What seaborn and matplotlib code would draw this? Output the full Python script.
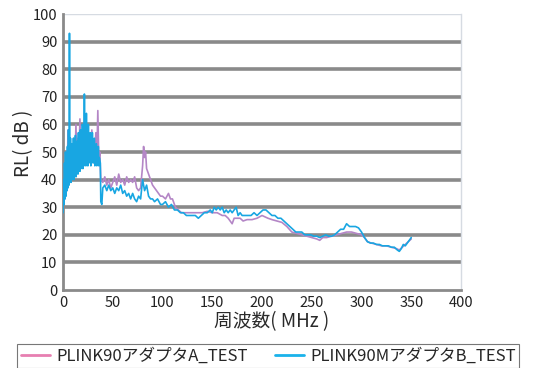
import numpy as np
import pandas as pd
import matplotlib
matplotlib.use("Agg")
import matplotlib.pyplot as plt
from matplotlib.lines import Line2D
import seaborn as sns

# ---- data ----
series_names = ["PLINK90アダプタA_TEST", "PLINK90MアダプタB_TEST"]

a_freq = [0, 1, 2, 3, 4, 5, 6, 7, 8, 9, 10, 11, 12, 13, 14, 15, 16, 17, 18, 19,
          20, 21, 22, 23, 24, 25, 26, 27, 28, 29, 30, 31, 32, 33, 34, 35, 36, 37, 38,
          40, 42, 44, 46, 48, 50, 52, 54, 56, 58, 60, 62, 64, 66, 68, 70, 72, 74, 76, 78,
          80, 81, 82, 83, 84, 86, 88, 90, 92, 94, 96, 98, 100, 103, 106, 108, 110, 113,
          116, 119, 122, 125, 130, 135, 140, 145, 150, 155, 160, 163, 166, 168, 170, 172,
          175, 178, 181, 185, 190, 195, 200, 203, 206, 210, 215, 220, 225, 230, 235, 240,
          245, 250, 255, 258, 261, 265, 270, 275, 280, 285, 290, 295, 300, 303, 306, 310,
          315, 320, 325, 330, 335, 338, 341, 344, 347, 350]
a_rl = [30, 38, 33, 45, 36, 58, 40, 50, 42, 52, 43, 55, 45, 60, 46, 55, 47, 62, 48, 58,
        47, 60, 48, 56, 47, 58, 48, 55, 47, 58, 48, 54, 47, 57, 48, 65, 47, 50, 40,
        39, 41, 38, 40, 37, 39, 41, 38, 42, 39, 40, 38, 41, 39, 40, 39, 41, 37, 36, 37,
        45, 52, 48, 50, 44, 42, 40, 38, 37, 36, 35, 34, 34, 33, 35, 33, 33, 30,
        29, 28, 28, 28, 28, 28, 28, 28.5, 28, 28, 27, 27, 26, 25, 24, 26,
        26, 26, 25, 25.5, 25.5, 26, 27, 26.5, 26, 25.5, 25, 24.5, 23, 21, 20.5, 20,
        19.5, 19, 18.5, 18, 19, 19, 19.5, 20, 20.5, 21, 21, 20.5, 20, 19, 17.5, 17,
        16.5, 16, 16, 15.5, 15, 14.5, 15.5, 16.5, 17.5, 18.5]

b_freq = [0, 0.5, 1, 1.5, 2, 2.5, 3, 3.5, 4, 4.5, 5, 5.5, 6, 6.5, 7, 7.5, 8, 8.5, 9, 9.5,
          10, 10.5, 11, 11.5, 12, 12.5, 13, 13.5, 14, 14.5, 15, 15.5, 16, 16.5, 17, 17.5,
          18, 18.5, 19, 19.5, 20, 20.5, 21, 21.5, 22, 22.5, 23, 23.5, 24, 24.5, 25, 25.5,
          26, 26.5, 27, 27.5, 28, 28.5, 29, 29.5, 30, 30.5, 31, 31.5, 32, 32.5, 33, 33.5,
          34, 34.5, 35, 35.5, 36, 36.5, 37, 37.5, 38,
          39, 40, 42, 44, 46, 48, 50, 52, 54, 56, 58, 60, 62, 64, 66, 68, 70, 72, 74, 76, 78,
          80, 82, 84, 86, 88, 90, 92, 95, 98, 100, 103, 106, 109, 112, 115, 118, 121, 124,
          127, 130, 133, 136, 139, 142, 145, 148, 150, 152, 154, 156, 158, 160, 162, 164,
          166, 168, 170, 172, 174, 176, 178, 180, 183, 186, 189, 192, 195, 198, 201, 204,
          207, 210, 213, 216, 219, 222, 225, 228, 231, 234, 237, 240, 243, 246, 249, 252,
          255, 258, 261, 264, 267, 270, 273, 276, 279, 282, 285, 288, 291, 294, 297, 300,
          303, 306, 309, 312, 315, 318, 321, 324, 327, 330, 333, 336, 338, 340, 342, 344,
          346, 348, 350]
b_rl = [28, 40, 31, 46, 33, 50, 34, 48, 36, 52, 37, 58, 38, 93, 40, 55, 39, 53, 40, 50,
        41, 55, 40, 52, 42, 56, 41, 50, 43, 54, 42, 57, 44, 52, 43, 58,
        44, 55, 45, 60, 44, 57, 45, 71, 46, 62, 45, 64, 46, 58, 45, 60,
        46, 55, 47, 57, 45, 54, 46, 57, 47, 52, 46, 55, 45, 50, 47, 53,
        45, 50, 46, 52, 45, 48, 47, 46, 32,
        31, 37, 38, 36, 38, 36, 37, 35, 37, 36, 38, 35, 36, 34, 35, 33, 35, 33, 32, 34, 33,
        40, 36, 38, 34, 33, 33, 32, 33, 31, 31, 32, 30, 31, 29, 29, 28, 28, 27,
        27, 27, 27, 26, 27, 28, 28, 29, 28, 30, 29, 30, 29, 30, 28, 29,
        28, 29, 28, 29, 30, 27, 28, 27, 27, 27, 27, 28, 27, 28, 29, 29,
        28, 27, 27, 26, 26, 25, 24, 23, 22, 21, 21, 21, 20, 20, 20, 19.5,
        19.5, 19, 19.5, 20, 19.5, 19.5, 20, 21, 22, 22, 24, 23, 23, 23, 22.5, 21,
        19, 17.5, 17, 17, 16.5, 16.5, 16, 16, 16, 15.5, 15.5, 14.5, 14, 15, 16.5, 16,
        17, 18, 19]

x_ticks = [0, 50, 100, 150, 200, 250, 300, 350, 400]
y_ticks = [0, 10, 20, 30, 40, 50, 60, 70, 80, 90, 100]

line_colors = ["#b486c6", "#18a6e2"]
legend_colors = ["#e77fb1", "#1ab2ea"]

# ---- build frame ----
df = pd.concat([
    pd.DataFrame({"freq": a_freq, "rl": a_rl, "series": series_names[0]}),
    pd.DataFrame({"freq": b_freq, "rl": b_rl, "series": series_names[1]}),
], ignore_index=True)

sns.set_style("white")
plt.rcParams["font.family"] = ["Noto Sans CJK JP", "DejaVu Sans"]

fig = plt.figure(figsize=(5.33, 3.68), dpi=100)
ax = fig.add_axes([63 / 533, 1 - 290 / 368, (461 - 63) / 533, (290 - 14) / 368])

for ytk in y_ticks[1:-1]:
    ax.axhline(ytk, color="#8a8a8a", lw=2.6, zorder=0)
ax.axhline(100, color="#d6dbe2", lw=1.0, zorder=0)

for name, col in zip(series_names, line_colors):
    sub = df[df["series"] == name]
    sns.lineplot(data=sub, x="freq", y="rl", ax=ax, color=col, lw=1.2,
                 sort=False, estimator=None, legend=False, zorder=3)

ax.set_xlim(0, 400)
ax.set_ylim(0, 100)
ax.set_xticks(x_ticks)
ax.set_yticks(y_ticks)
ax.tick_params(axis="both", labelsize=10.5, colors="#222222", length=3, width=1,
               pad=1)
ax.tick_params(axis="y", length=0, pad=4)
for s in ["left", "bottom"]:
    ax.spines[s].set_color("#8a8a8a")
    ax.spines[s].set_linewidth(2)
ax.spines["top"].set_visible(False)
ax.spines["right"].set_color("#d6dbe2")
ax.spines["right"].set_linewidth(1.0)
ax.set_xlabel("周波数( MHz )", fontsize=13.5, color="#2a2a2a")
ax.set_ylabel("RL( dB )", fontsize=13.5, color="#2a2a2a")
ax.xaxis.set_label_coords(0.525, -0.116)
ax.xaxis.label.set_va("center")
ax.yaxis.set_label_coords(-0.098, 0.533)
ax.yaxis.label.set_va("center")

handles = [Line2D([0], [0], color=c, lw=2) for c in legend_colors]
leg = fig.legend(handles, series_names, loc="upper center",
                 bbox_to_anchor=(0.5035, 1 - 344 / 368), ncol=2, frameon=True,
                 fancybox=False, fontsize=12, handlelength=1.75,
                 columnspacing=1.6, borderpad=0.2, handletextpad=0.4,
                 borderaxespad=0)
leg.get_frame().set_edgecolor("#555555")
leg.get_frame().set_linewidth(0.8)

fig.savefig("out.png", dpi=100)
